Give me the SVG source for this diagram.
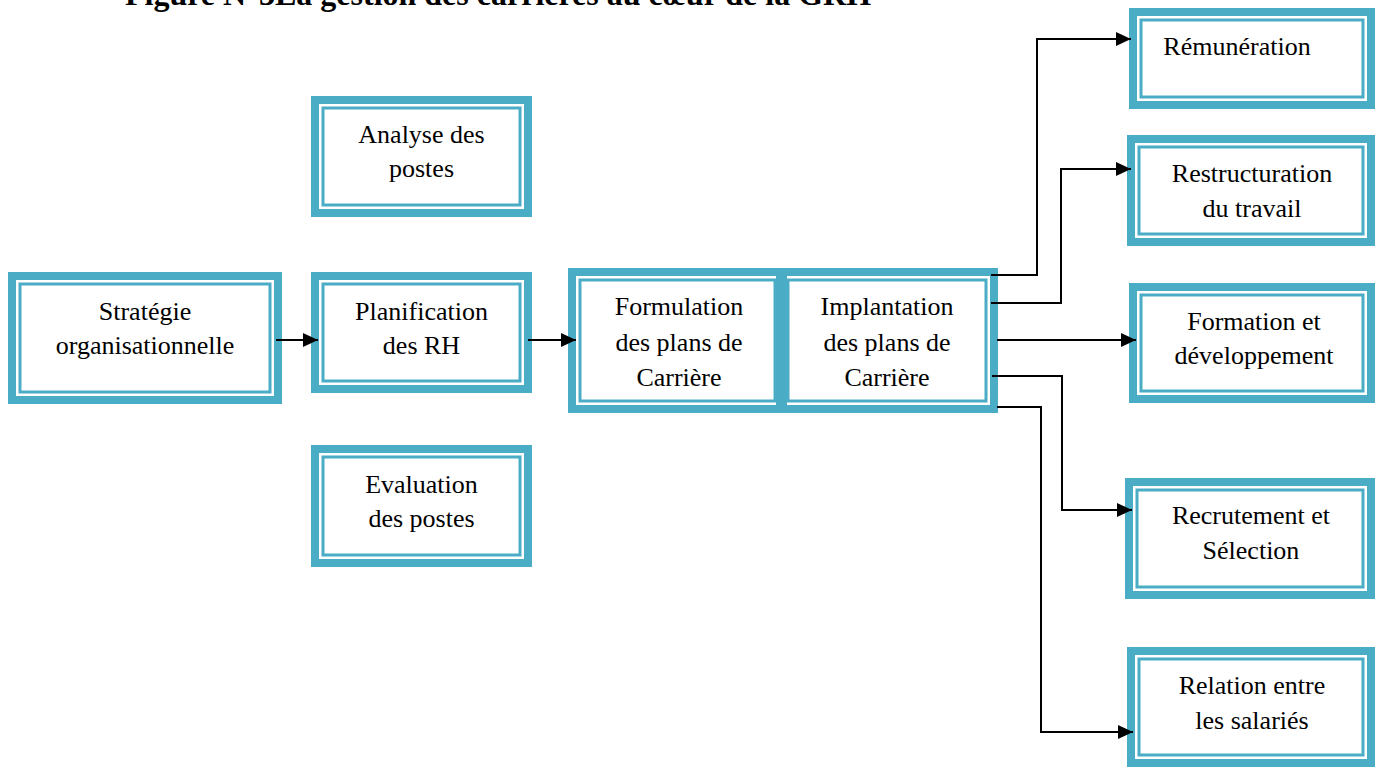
<svg xmlns="http://www.w3.org/2000/svg" width="1377" height="767" viewBox="0 0 1377 767">
<defs>
<style>
.outer{fill:none;stroke:#4BACC6;stroke-width:8}
.inner{fill:none;stroke:#4BACC6;stroke-width:3}
.t{font-family:"Liberation Serif","Times New Roman",serif;font-size:26px;fill:#000;text-anchor:middle}
.title{font-family:"Liberation Serif","Times New Roman",serif;font-size:32px;font-weight:bold;fill:#000}
.c{fill:none;stroke:#000;stroke-width:2;marker-end:url(#arr)}
</style>
<marker id="arr" markerUnits="userSpaceOnUse" markerWidth="15" markerHeight="16" refX="15" refY="8" orient="auto">
<path d="M0,1 L15,8 L0,15 z" fill="#000"/>
</marker>
</defs>
<rect x="0" y="0" width="1377" height="767" fill="#fff"/>
<text class="title" x="125" y="5">Figure N°3La gestion des carrières au cœur de la GRH</text>

<g id="strategie">
<rect class="outer" x="12" y="276" width="266" height="124"/>
<rect class="inner" x="20" y="284" width="250" height="108"/>
<text class="t" x="145" y="320">Stratégie</text>
<text class="t" x="145" y="354">organisationnelle</text>
</g>

<g id="analyse">
<rect class="outer" x="315" y="100" width="213" height="113"/>
<rect class="inner" x="323" y="108" width="197" height="97"/>
<text class="t" x="421.5" y="143">Analyse des</text>
<text class="t" x="421.5" y="177">postes</text>
</g>

<g id="planification">
<rect class="outer" x="315" y="276" width="213" height="113"/>
<rect class="inner" x="323" y="284" width="197" height="97"/>
<text class="t" x="421.5" y="320">Planification</text>
<text class="t" x="421.5" y="354">des RH</text>
</g>

<g id="evaluation">
<rect class="outer" x="315" y="449" width="213" height="114"/>
<rect class="inner" x="323" y="457" width="197" height="98"/>
<text class="t" x="421.5" y="493">Evaluation</text>
<text class="t" x="421.5" y="527">des postes</text>
</g>

<g id="formulation">
<rect class="outer" x="572" y="272" width="211" height="137"/>
<rect class="inner" x="580" y="280" width="195" height="121"/>
<text class="t" x="679" y="315">Formulation</text>
<text class="t" x="679" y="351">des plans de</text>
<text class="t" x="679" y="386">Carrière</text>
</g>

<g id="implantation">
<rect class="outer" x="780" y="272" width="214" height="137"/>
<rect class="inner" x="788" y="280" width="198" height="121"/>
<text class="t" x="887" y="315">Implantation</text>
<text class="t" x="887" y="351">des plans de</text>
<text class="t" x="887" y="386">Carrière</text>
</g>

<g id="remuneration">
<rect class="outer" x="1133" y="12" width="238" height="93"/>
<rect class="inner" x="1141" y="20" width="222" height="77"/>
<text class="t" x="1237" y="55">Rémunération</text>
</g>

<g id="restructuration">
<rect class="outer" x="1131" y="139" width="240" height="103"/>
<rect class="inner" x="1139" y="147" width="224" height="87"/>
<text class="t" x="1252" y="182">Restructuration</text>
<text class="t" x="1252" y="217">du travail</text>
</g>

<g id="formation">
<rect class="outer" x="1133" y="287" width="238" height="112"/>
<rect class="inner" x="1141" y="295" width="222" height="96"/>
<text class="t" x="1254" y="330">Formation et</text>
<text class="t" x="1254" y="364">développement</text>
</g>

<g id="recrutement">
<rect class="outer" x="1129" y="482" width="242" height="113"/>
<rect class="inner" x="1137" y="490" width="226" height="97"/>
<text class="t" x="1251" y="524">Recrutement et</text>
<text class="t" x="1251" y="559">Sélection</text>
</g>

<g id="relation">
<rect class="outer" x="1131" y="651" width="240" height="112"/>
<rect class="inner" x="1139" y="659" width="224" height="96"/>
<text class="t" x="1252" y="694">Relation entre</text>
<text class="t" x="1252" y="729">les salariés</text>
</g>

<g id="connectors">
<path class="c" d="M276,340 H318"/>
<path class="c" d="M528,340 H576"/>
<path class="c" d="M991,275 H1037 V39 H1131"/>
<path class="c" d="M991,303 H1061 V169 H1131"/>
<path class="c" d="M997,340 H1136"/>
<path class="c" d="M992,376 H1062 V510 H1132"/>
<path class="c" d="M997,407 H1041 V732 H1133"/>
</g>
</svg>
